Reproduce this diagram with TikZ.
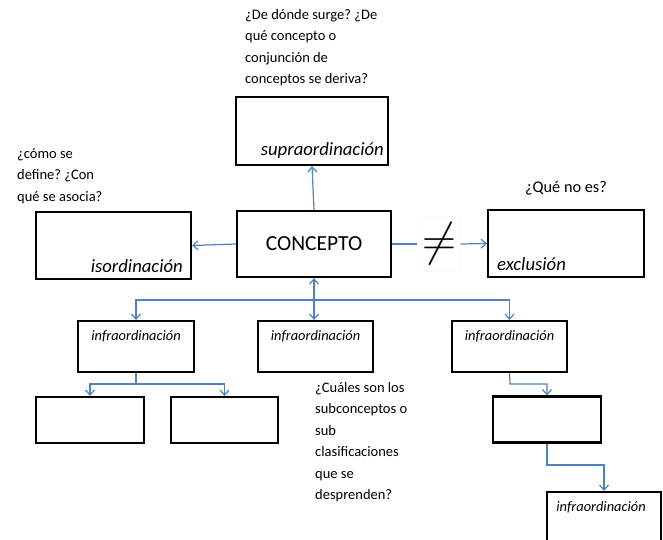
\documentclass[tikz,border=0pt]{standalone}
\usepackage{fontspec}
\usepackage{graphicx}
\setmainfont{Carlito}
\usetikzlibrary{arrows.meta}
\definecolor{lnblue}{HTML}{4F81BD}
\tikzset{
  box/.style={draw=black, line width=2.2bp, rectangle, inner sep=0pt},
  conn/.style={draw=lnblue, line width=1.2bp},
  arr/.style={conn, -{Straight Barb[length=5bp,width=9bp]}},
  barr/.style={conn, {Straight Barb[length=5bp,width=9bp]}-{Straight Barb[length=5bp,width=9bp]}},
  qtext/.style={font=\fontsize{14.5bp}{21.5bp}\selectfont, align=left, inner sep=0pt, anchor=north west},
  lbl/.style={font=\fontsize{18.7bp}{20bp}\selectfont\itshape, inner sep=0pt},
  ilbl/.style={font=\fontsize{14.4bp}{16bp}\selectfont\itshape, inner sep=0pt}
}
\begin{document}
\frenchspacing
\begin{tikzpicture}[x=1bp,y=-1bp]
\useasboundingbox (0,0) rectangle (663,540);
\clip (0,0) rectangle (663,540);
% boxes
\node[box, minimum width=152bp, minimum height=68bp] (supra) at (312,131) {};
\node[box, minimum width=154bp, minimum height=66bp] (concept) at (314,244) {};
\node[box, minimum width=155bp, minimum height=67bp] (iso) at (113.5,245.5) {};
\node[box, minimum width=156bp, minimum height=67bp] (excl) at (566,243.5) {};
\node[box, minimum width=116bp, minimum height=51bp] (inf1) at (136,346.5) {};
\node[box, minimum width=115bp, minimum height=51bp] (inf2) at (315.5,346.5) {};
\node[box, minimum width=115bp, minimum height=51bp] (inf3) at (509.5,346.5) {};
\node[box, minimum width=108bp, minimum height=46bp] (sub1) at (90,420) {};
\node[box, minimum width=107bp, minimum height=46bp] (sub2) at (224.5,420) {};
\node[box, minimum width=108bp, minimum height=46bp] (sub3) at (547,419.5) {};
\node[box, minimum width=114bp, minimum height=70bp] (inf4) at (604,527) {};
% labels
\node[font=\fontsize{21.5bp}{24bp}\selectfont, inner sep=0pt] (tconcept) at (314,244) {CONCEPTO};
\node[lbl, anchor=base east] (tsupra) at (384,156) {supraordinación};
\node[lbl, anchor=base east] (tiso) at (183,272) {isordinación};
\node[lbl, anchor=base west] (texcl) at (497,270) {exclusión};
\node[ilbl, anchor=base] (ti1) at (136,340) {infraordinación};
\node[ilbl, anchor=base] (ti2) at (315.5,340) {infraordinación};
\node[ilbl, anchor=base] (ti3) at (509.5,340) {infraordinación};
\node[ilbl, anchor=base] (ti4) at (601,511) {infraordinación};
% questions
\node[qtext] (q1) at (245,9) {¿De dónde surge? ¿De\\qué concepto o\\conjunción de\\conceptos se deriva?};
\node[qtext] (q2) at (17,148) {¿cómo se\\define? ¿Con\\qué se asocia?};
\node[qtext, anchor=base, font=\fontsize{16.3bp}{20bp}\selectfont] (q3) at (566,193) {¿Qué no es?};
\node[qtext] (q4) at (315,382) {¿Cuáles son los\\subconceptos o\\sub\\clasificaciones\\que se\\desprenden?};
% not equal
\node[draw=black!2, minimum width=43bp, minimum height=55bp, inner sep=0pt] (neq) at (439,244) {\scalebox{1.9}{\fontsize{24bp}{24bp}\selectfont$\neq$}};
% connectors
\draw[arr] (concept.north) -- (supra.south);
\draw[arr] (concept.west) -- (iso.east);
\draw[conn] (concept.east) -- (neq.west);
\draw[arr] (neq.east) -- (excl.west);
\coordinate (hub) at (314,300);
\draw[barr] (concept.south) -- (concept.south |- inf2.north);
\draw[arr] (hub) -| (inf1.north);
\draw[arr] (hub) -| (inf3.north);
\coordinate (j1) at (136,384);
\draw[conn] (inf1.south) -- (j1);
\draw[arr] (j1) -| (sub1.north);
\draw[arr] (j1) -| (sub2.north);
\coordinate (j3) at (510,384);
\draw[arr] (inf3.south) -- (j3) -| (sub3.north);
\coordinate (j4) at (547,465);
\draw[arr] (sub3.south) -- (j4) -| (inf4.north);
\end{tikzpicture}
\end{document}
